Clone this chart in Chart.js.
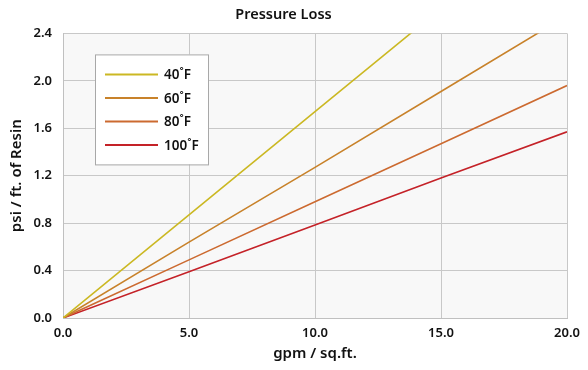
<!DOCTYPE html>
<html>
<head>
<meta charset="utf-8">
<script src="https://cdn.jsdelivr.net/npm/chart.js@4"></script>
<style>
html,body{margin:0;padding:0;background:#fff;}
#wrap{width:588px;height:370px;}
</style>
</head>
<body>
<div id="wrap"><canvas id="c" width="588" height="370"></canvas></div>
<script>
// Data
const flowRates = [0, 5, 10, 15, 20];            // gpm / sq.ft.
const seriesLabels = ['40˚F', '60˚F', '80˚F', '100˚F'];
const loss40 = [0, 0.87, 1.74, 2.61, 3.48];      // psi / ft. of resin
const loss60 = [0, 0.64, 1.27, 1.91, 2.55];
const loss80 = [0, 0.49, 0.98, 1.47, 1.96];
const loss100 = [0, 0.39, 0.785, 1.18, 1.57];
const xTicks = [0, 5, 10, 15, 20];
const yTicks = [0, 0.4, 0.8, 1.2, 1.6, 2.0, 2.4];

const colors = ['#cbb823', '#c8822a', '#cc6a30', '#c42228'];
const allSeries = [loss40, loss60, loss80, loss100];

const datasets = allSeries.map((vals, i) => ({
  label: seriesLabels[i],
  data: flowRates.map((x, j) => ({x: x, y: vals[j]})),
  borderColor: colors[i],
  backgroundColor: colors[i],
  borderWidth: 1.6,
  pointRadius: 0,
  tension: 0,
  fill: false
}));

const FONT = "'Noto Sans', 'Open Sans', sans-serif";

const bgPlugin = {
  id: 'bgPlugin',
  beforeDraw(chart) {
    const {ctx, chartArea: a} = chart;
    ctx.save();
    ctx.fillStyle = '#f8f8f8';
    ctx.fillRect(a.left, a.top, a.right - a.left, a.bottom - a.top);
    ctx.restore();
  }
};

const boxLegend = {
  id: 'boxLegend',
  afterDatasetsDraw(chart) {
    const {ctx, chartArea: a} = chart;
    const left = a.left + 32, top = a.top + 21, w = 113, h = 110;
    ctx.save();
    ctx.fillStyle = '#ffffff';
    ctx.fillRect(left, top, w, h);
    ctx.strokeStyle = '#a8a8a8';
    ctx.lineWidth = 1;
    ctx.strokeRect(left + 0.5, top + 0.5, w, h);
    ctx.font = "600 13.5px " + FONT;
    ctx.textBaseline = 'middle';
    ctx.fillStyle = '#111';
    chart.data.datasets.forEach((ds, i) => {
      const y = top + 20 + i * 23.5;
      ctx.strokeStyle = ds.borderColor;
      ctx.lineWidth = 2;
      ctx.beginPath();
      ctx.moveTo(left + 10, y);
      ctx.lineTo(left + 63, y);
      ctx.stroke();
      ctx.fillText(ds.label, left + 69, y + 1);
    });
    ctx.restore();
  }
};

new Chart(document.getElementById('c'), {
  type: 'line',
  data: { datasets: datasets },
  plugins: [bgPlugin, boxLegend],
  options: {
    responsive: false,
    animation: false,
    layout: { padding: { left: 0, right: 21, top: 0, bottom: 0 } },
    plugins: {
      legend: { display: false },
      tooltip: { enabled: false },
      title: {
        display: true,
        text: 'Pressure Loss',
        color: '#111',
        font: { family: FONT, size: 14.5, weight: '600' },
        padding: { top: 6, bottom: 10 }
      }
    },
    scales: {
      x: {
        type: 'linear',
        min: 0, max: 20,
        afterBuildTicks(scale) { scale.ticks = xTicks.map(v => ({value: v})); },
        afterFit(scale) { scale.height = 52; },
        ticks: {
          color: '#111',
          font: { family: FONT, size: 13, weight: '600' },
          padding: 7,
          maxRotation: 0,
          callback: v => Number(v).toFixed(1)
        },
        grid: { color: '#c8c8c8', lineWidth: 1, drawTicks: false },
        border: { color: '#c0c0c0' },
        title: {
          display: true,
          text: 'gpm / sq.ft.',
          color: '#111',
          font: { family: FONT, size: 15, weight: '600' },
          padding: { top: 4, bottom: 7 }
        }
      },
      y: {
        type: 'linear',
        min: 0, max: 2.4,
        afterBuildTicks(scale) { scale.ticks = yTicks.map(v => ({value: v})); },
        afterFit(scale) { scale.width = 63; },
        ticks: {
          color: '#111',
          font: { family: FONT, size: 13, weight: '600' },
          padding: 11,
          callback: v => Number(v).toFixed(1)
        },
        grid: { color: '#c8c8c8', lineWidth: 1, drawTicks: false },
        border: { color: '#c0c0c0' },
        title: {
          display: true,
          text: 'psi / ft. of Resin',
          color: '#111',
          font: { family: FONT, size: 15, weight: '600' },
          padding: { top: 8, bottom: 4 }
        }
      }
    }
  }
});
</script>
</body>
</html>
